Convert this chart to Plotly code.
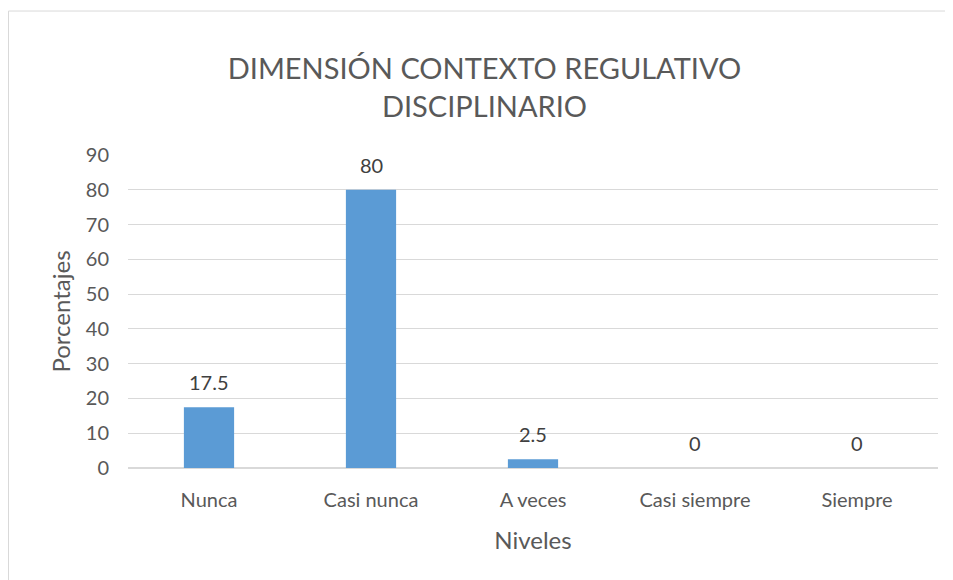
import plotly.graph_objects as go

niveles = ["Nunca", "Casi nunca", "A veces", "Casi siempre", "Siempre"]
porcentajes = [17.5, 80, 2.5, 0, 0]
y_ticks = [0, 10, 20, 30, 40, 50, 60, 70, 80, 90]

gray = "#595959"
grid = "#d9d9d9"

fig = go.Figure(go.Bar(
    x=niveles, y=porcentajes,
    marker=dict(color="#5b9bd5", line=dict(width=0)),
    width=0.31,
))

# etiquetas de datos encima de cada barra
for nivel, valor in zip(niveles, porcentajes):
    fig.add_annotation(x=nivel, y=valor, text=f"{valor:g}", showarrow=False,
                       yanchor="middle", yshift=25,
                       font=dict(size=20, color="#404040"))

fig.update_layout(
    width=953, height=580,
    margin=dict(l=120, r=23, t=147, b=120),
    paper_bgcolor="white", plot_bgcolor="white",
    font=dict(family="Lato", size=20, color=gray),
    title=dict(text="DIMENSIÓN CONTEXTO REGULATIVO<br>DISCIPLINARIO",
               x=0.5, xanchor="center", y=0.877, yanchor="middle",
               font=dict(size=29, color=gray)),
    showlegend=False,
    shapes=[dict(type="rect", xref="paper", yref="paper",
                 x0=-0.1475, x1=1.2, y0=-0.6, y1=1.46,
                 line=dict(color=grid, width=1), layer="below")],
)
fig.update_xaxes(title=dict(text="Niveles", standoff=22), showline=True,
                 linecolor=grid, ticks="", showgrid=False, ticklabelstandoff=14)
fig.update_yaxes(title=dict(text="Porcentajes", standoff=8), range=[0, 90],
                 tickvals=y_ticks, gridcolor=grid, zeroline=True,
                 zerolinecolor=grid, ticks="", ticklabelstandoff=18)

fig.write_html("out.html")
